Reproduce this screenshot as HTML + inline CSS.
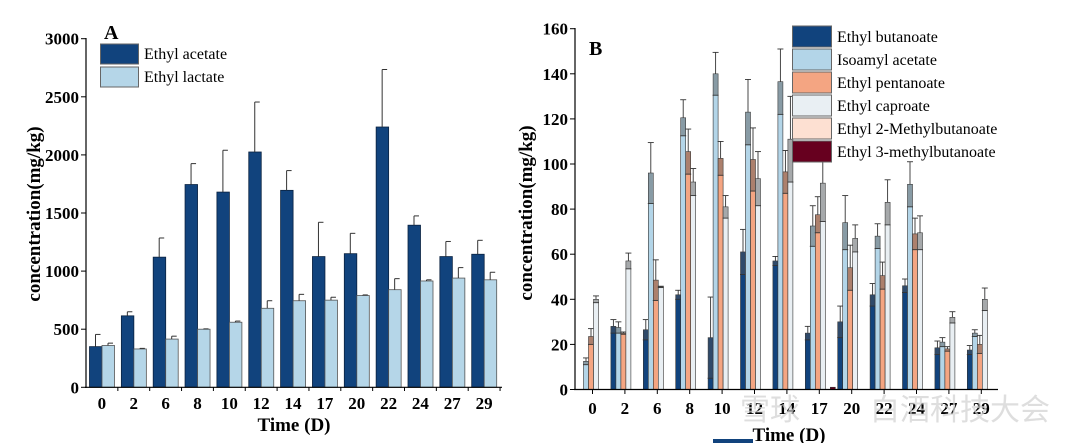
<!DOCTYPE html>
<html><head><meta charset="utf-8"><style>
html,body{margin:0;padding:0;background:#fff;}
svg{display:block;font-family:"Liberation Serif",serif;}
.tk{font-weight:bold;font-size:17px;}
.lg{font-size:16px;}
</style></head><body>
<svg id="c" width="1080" height="443" viewBox="0 0 1080 443" xmlns="http://www.w3.org/2000/svg"></svg>
<script>
const catsA = ["0","2","6","8","10","12","14","17","20","22","24","27","29"];
const acetate = [350,615,1120,1745,1680,2025,1695,1125,1150,2240,1395,1125,1145];
const acetateErr = [105,35,165,180,360,430,170,295,175,495,80,130,120];
const lactate = [360,330,415,500,560,680,745,750,790,840,915,940,925];
const lactateErr = [20,5,25,3,10,65,55,25,5,95,10,90,65];
const ticksA = [0,500,1000,1500,2000,2500,3000];

const catsB = ["0","2","6","8","10","12","14","17","20","22","24","27","29"];
const butanoate = [0,28,26.5,42,23,61,57,25,30,42,46,18.5,17.5];
const butanoateErr = [0,3,4.5,2,18,10,2,3,7,5,3,3,2];
const isoamyl = [12.5,27.5,96,120.5,140,123,136.5,72.5,74,68,91,21,25];
const isoamylErr = [1.5,2.5,13.5,8,9.5,14.5,14.5,9,12,5.5,10,2,1.5];
const pentanoate = [23.5,25,48.5,105.5,102.5,102,96.5,77.5,54,50.5,69,18,20];
const pentanoateErr = [3.5,0.5,9,10,7.5,14,9.5,8,10,6,7,1,4];
const caproate = [40,57,45.5,92,81,93.5,111,91.5,67,83,69.5,32,40];
const caproateErr = [1.5,3.5,0.3,6,5,12,19,17,6,10,7.5,2.5,5];
const methyl2 = [0,0,0,0,0,0,0,0,0,0,0,0,0];
const methyl3 = [0,0,0,0,0,0,0,1,0,0,0,0,0];
const ticksB = [0,20,40,60,80,100,120,140,160];

const svg = document.getElementById('c');
const NS = "http://www.w3.org/2000/svg";
function el(tag, attrs, parent, txt){
  const e = document.createElementNS(NS, tag);
  for (const k in attrs) e.setAttribute(k, attrs[k]);
  if (txt !== undefined) e.textContent = txt;
  (parent||svg).appendChild(e);
  return e;
}

// ---------- Chart A ----------
const yA = v => 387.3 - v/3000*(387.3-38.7);
const xA0 = 86, stepA = 31.85;
const gA = el('g',{});  
function errA(x, v, e, g){
  if (e<=0) return;
  const l = el('line',{x1:x,x2:x,y1:yA(v),y2:yA(v+e),stroke:'#333','stroke-width':1},g);
   
  el('line',{x1:x,x2:x+5,y1:yA(v+e),y2:yA(v+e),stroke:'#333','stroke-width':1},g);
}
catsA.forEach((c,i)=>{
  const b = xA0 + i*stepA;
  const r1 = el('rect',{x:b+3.5,y:yA(acetate[i]),width:12.5,height:yA(0)-yA(acetate[i]),fill:'#11437d',stroke:'#0a2240','stroke-width':0.8},gA);
   
  errA(b+9.5, acetate[i], acetateErr[i], gA);
  const r2 = el('rect',{x:b+16,y:yA(lactate[i]),width:12.5,height:yA(0)-yA(lactate[i]),fill:'#b5d6e8',stroke:'#555','stroke-width':0.8},gA);
   
  errA(b+22, lactate[i], lactateErr[i], gA);
  const t = el('text',{x:b+stepA/2,y:409,'text-anchor':'middle',class:'tk'},gA,c);
   
  el('line',{x1:b+stepA,x2:b+stepA,y1:387,y2:391,stroke:'#000'},gA);
});
el('line',{x1:86,x2:86,y1:38,y2:388,stroke:'#000','stroke-width':1.2},gA);
el('line',{x1:85,x2:502,y1:387.3,y2:387.3,stroke:'#000','stroke-width':1.2},gA);
ticksA.forEach(v=>{
  el('line',{x1:81,x2:86,y1:yA(v),y2:yA(v),stroke:'#000'},gA);
  const t = el('text',{x:79,y:yA(v)+6,'text-anchor':'end',class:'tk'},gA,v);
   
});
let t;
t = el('text',{x:0,y:0,'font-weight':'bold','font-size':'19',transform:'translate(40,214) rotate(-90)','text-anchor':'middle'},gA,'concentration(mg/kg)');
 
t = el('text',{x:294,y:431,'font-weight':'bold','text-anchor':'middle','font-size':'19'},gA,'Time (D)');
 
t = el('text',{x:104,y:39,'font-weight':'bold','font-size':'20'},gA,'A');
 
[['Ethyl acetate','#11437d',44],['Ethyl lactate','#b5d6e8',67]].forEach(([n,col,y])=>{
  const g = el('g',{},gA);  
  el('rect',{x:100.5,y:y,width:38,height:20,fill:col,stroke:'#666','stroke-width':1},g);
  el('text',{x:144,y:y+15,class:'lg'},g,n);
});

// ---------- Chart B ----------
const yB = v => 389.5 - v/160*(389.5-28.7);
const cx0 = 592.5, stepB = 32.4, bw = 5;
const gB = el('g',{});  
const seriesB = [
  ['ethyl-butanoate', butanoate, butanoateErr, '#11437d'],
  ['isoamyl-acetate', isoamyl, isoamylErr, '#b3d5e8'],
  ['ethyl-pentanoate', pentanoate, pentanoateErr, '#f4a582'],
  ['ethyl-caproate', caproate, caproateErr, '#e9eff3'],
  ['ethyl-2-methylbutanoate', methyl2, null, '#fde0d2'],
  ['ethyl-3-methylbutanoate', methyl3, null, '#67001f']
];
catsB.forEach((c,i)=>{
  const cx = cx0 + i*stepB;
  seriesB.forEach(([n,vals,errs,col],s)=>{
    const v = vals[i]; if (v<=0) return;
    const x = cx - 14 + s*bw;
    const r = el('rect',{x:x,y:yB(v),width:bw,height:yB(0)-yB(v),fill:col,stroke:'#333','stroke-width':0.6},gB);
     
    if (errs && errs[i]>0){
      const e = errs[i], xc = x+bw/2;
      const lo = Math.max(0, v-e);
      const ov = el('rect',{x:x,y:yB(v),width:bw,height:yB(lo)-yB(v),fill:'#555','fill-opacity':0.45},gB);
       
      el('line',{x1:xc,x2:xc,y1:yB(v),y2:yB(v+e),stroke:'#333','stroke-width':0.9},gB);
      el('line',{x1:x-0.5,x2:x+bw+0.5,y1:yB(v+e),y2:yB(v+e),stroke:'#333','stroke-width':0.9},gB);
      el('line',{x1:x-0.5,x2:x+bw+0.5,y1:yB(lo),y2:yB(lo),stroke:'#333','stroke-width':0.9},gB);
    }
  });
  el('line',{x1:cx,x2:cx,y1:389.5,y2:394,stroke:'#000'},gB);
  const tl = el('text',{x:cx,y:414,'text-anchor':'middle',class:'tk'},gB,c);
   
});
el('line',{x1:575,x2:575,y1:28,y2:390,stroke:'#000','stroke-width':1.2},gB);
el('line',{x1:574,x2:998,y1:389.5,y2:389.5,stroke:'#000','stroke-width':1.2},gB);
ticksB.forEach(v=>{
  el('line',{x1:570,x2:575,y1:yB(v),y2:yB(v),stroke:'#000'},gB);
  const tt = el('text',{x:568,y:yB(v)+6,'text-anchor':'end',class:'tk'},gB,v);
   
});
t = el('text',{x:0,y:0,'font-weight':'bold','font-size':'19',transform:'translate(532,213) rotate(-90)','text-anchor':'middle'},gB,'concentration(mg/kg)');
 
t = el('text',{x:789,y:441,'font-weight':'bold','text-anchor':'middle','font-size':'19'},gB,'Time (D)');
 
t = el('text',{x:589,y:55,'font-weight':'bold','font-size':'20'},gB,'B');
 
const legB = ['Ethyl butanoate','Isoamyl acetate','Ethyl pentanoate','Ethyl caproate','Ethyl 2-Methylbutanoate','Ethyl 3-methylbutanoate'];
legB.forEach((n,k)=>{
  const g = el('g',{},gB);  
  const y = 26 + k*23;
  el('rect',{x:792.5,y:y,width:39,height:21,fill:seriesB[k][3],stroke:'#666','stroke-width':1},g);
  el('text',{x:837,y:y+16,class:'lg'},g,n);
});
el('rect',{x:713,y:439,width:40,height:4,fill:'#11437d'});
t = el('text',{x:740,y:420,'font-size':'30',fill:'#d0d0d0','fill-opacity':0.7,'font-family':'"Noto Sans CJK SC",sans-serif'},svg,'雪球');
 
t = el('text',{x:870,y:420,'font-size':'30',fill:'#d0d0d0','fill-opacity':0.7,'font-family':'"Noto Sans CJK SC",sans-serif'},svg,'白酒科技大会');
 
</script>
</body></html>
